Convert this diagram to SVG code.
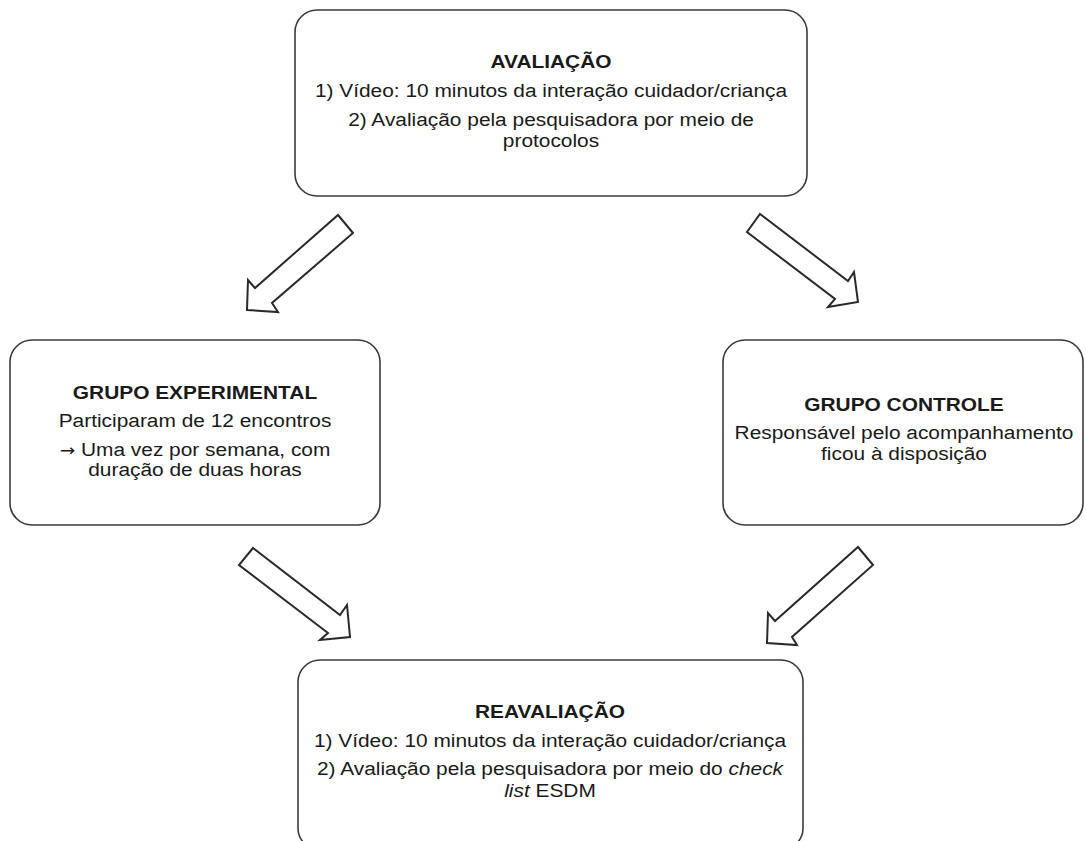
<svg xmlns="http://www.w3.org/2000/svg" width="1086" height="841" viewBox="0 0 1086 841">
<style>
.box{fill:#fff;stroke:#3a3a3a;stroke-width:1.6}
.arr{fill:#fff;stroke:#2a2a2a;stroke-width:2;stroke-linejoin:miter}
text{font-family:"Liberation Sans",Arial,"DejaVu Sans",sans-serif;font-size:18px;fill:#1a1a1a;text-anchor:middle}
.b{font-weight:bold}
.sym{font-family:"DejaVu Sans",sans-serif;font-size:16px}
</style>
<rect width="1086" height="841" fill="#fff"/>
<g id="avaliacao">
<rect class="box" x="295" y="10" width="512" height="186" rx="22"/>
<g transform="translate(551 0) scale(1.16 1)">
<text class="b" x="0" y="68">AVALIAÇÃO</text>
<text x="0" y="97">1) Vídeo: 10 minutos da interação cuidador/criança</text>
<text x="0" y="126">2) Avaliação pela pesquisadora por meio de</text>
<text x="0" y="147">protocolos</text>
</g>
</g>
<g id="grupo-experimental">
<rect class="box" x="10" y="340" width="370" height="185" rx="22"/>
<g transform="translate(195 0) scale(1.16 1)">
<text class="b" x="0" y="399">GRUPO EXPERIMENTAL</text>
<text x="0" y="427">Participaram de 12 encontros</text>
<text x="0" y="456"><tspan class="sym">→</tspan> Uma vez por semana, com</text>
<text x="0" y="476">duração de duas horas</text>
</g>
</g>
<g id="grupo-controle">
<rect class="box" x="723" y="340" width="360" height="185" rx="22"/>
<g transform="translate(904 0) scale(1.16 1)">
<text class="b" x="0" y="411">GRUPO CONTROLE</text>
<text x="0" y="439">Responsável pelo acompanhamento</text>
<text x="0" y="460">ficou à disposição</text>
</g>
</g>
<g id="reavaliacao">
<rect class="box" x="298" y="660" width="505" height="190" rx="22"/>
<g transform="translate(550 0) scale(1.16 1)">
<text class="b" x="0" y="718">REAVALIAÇÃO</text>
<text x="0" y="747">1) Vídeo: 10 minutos da interação cuidador/criança</text>
<text x="0" y="775">2) Avaliação pela pesquisadora por meio do <tspan font-style="italic">check</tspan></text>
<text x="0" y="797"><tspan font-style="italic">list</tspan> ESDM</text>
</g>
</g>
<g id="connectors">
<polygon class="arr" points="338,215 353,233 272,303 278,312 247,310 248,280 255,288"/>
<polygon class="arr" points="760,214 848,281 854,272 858,302 828,307 835,299 747,232"/>
<polygon class="arr" points="253,548 340,615 347,605 350,637 320,640 328,633 239,565"/>
<polygon class="arr" points="858,547 873,565 792,637 797,645 767,643 768,613 775,621"/>
</g>
</svg>
